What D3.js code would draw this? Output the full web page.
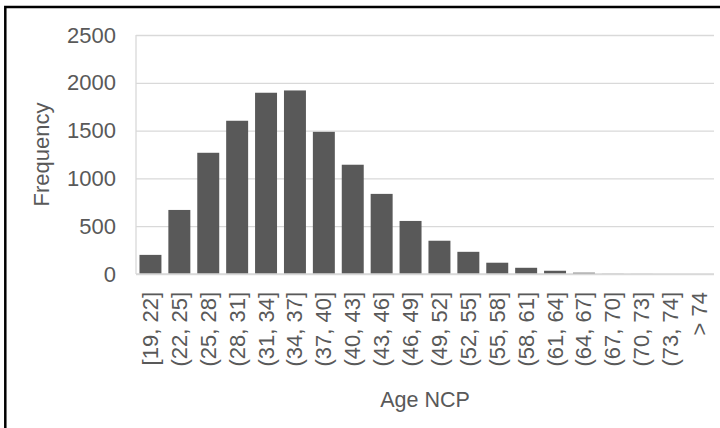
<!DOCTYPE html>
<html>
<head>
  <meta charset="utf-8">
  <title>Age NCP Histogram</title>
  <style>
    body { margin: 0; background: #ffffff; }
    text { font-family: "Liberation Sans", Arial, sans-serif; fill: #595959; }
  </style>
</head>
<body>
<div id="container"></div>
<script src="https://d3js.org/d3.v7.min.js"></script>
<script>
// categories (age bins) and their counts
var bins = ["[19, 22]", "(22, 25]", "(25, 28]", "(28, 31]", "(31, 34]", "(34, 37]",
  "(37, 40]", "(40, 43]", "(43, 46]", "(46, 49]", "(49, 52]", "(52, 55]",
  "(55, 58]", "(58, 61]", "(61, 64]", "(64, 67]", "(67, 70]", "(70, 73]",
  "(73, 74]", "> 74"];
var freq = [200, 670, 1268, 1603, 1896, 1920, 1487, 1143, 838, 555,
  348, 232, 118, 65, 34, 14, 2, 1, 0, 0];
var yTicks = [0, 500, 1000, 1500, 2000, 2500];

const width = 720, height = 428;
const plot = { left: 136, right: 714, top: 35, bottom: 274 };

var svg = d3.select("#container")
  .append("svg")
  .attr("width", width)
  .attr("height", height)
  .style("display", "block");

//******* Scales *******
var x = d3.scaleBand()
  .domain(bins)
  .range([plot.left, plot.right])
  .paddingInner(0.24)
  .paddingOuter(0.12);
var y = d3.scaleLinear()
  .domain([0, 2500])
  .range([plot.bottom, plot.top]);

//******* Gridlines + y labels *******
var yAxis = svg.append("g")
  .attr("transform", `translate(${plot.left}, 0)`)
  .call(d3.axisLeft(y)
    .tickValues(yTicks)
    .tickFormat(d3.format("d"))
    .tickSize(-(plot.right - plot.left))
    .tickPadding(20));
yAxis.select(".domain").remove();
yAxis.selectAll(".tick line")
  .attr("stroke", "#d9d9d9")
  .attr("stroke-width", 1.3);
yAxis.selectAll(".tick text")
  .attr("font-size", "22px")
  .attr("font-family", null)
  .attr("fill", "#595959");

// light vertical axis line on the left
svg.append("line")
  .attr("x1", plot.left).attr("x2", plot.left)
  .attr("y1", plot.top).attr("y2", plot.bottom)
  .attr("stroke", "#d9d9d9")
  .attr("stroke-width", 1.3);

//******* Bars *******
svg.selectAll(".bar")
  .data(freq)
  .enter()
  .append("rect")
  .attr("class", "bar")
  .attr("x", function(d, i) { return x(bins[i]); })
  .attr("y", function(d) { return y(d); })
  .attr("width", x.bandwidth())
  .attr("height", function(d) { return y(0) - y(d); })
  .attr("fill", "#595959");

// bottom axis line drawn over the bars
svg.append("line")
  .attr("x1", plot.left).attr("x2", plot.right)
  .attr("y1", y(0)).attr("y2", y(0))
  .attr("stroke", "#d9d9d9")
  .attr("stroke-width", 1.5);

//******* Category labels, rotated *******
svg.selectAll(".cat")
  .data(bins)
  .enter()
  .append("text")
  .attr("class", "cat")
  .attr("transform", function(d) {
    return `translate(${x(d) + x.bandwidth() / 2}, 292) rotate(-90)`;
  })
  .attr("text-anchor", "end")
  .attr("dominant-baseline", "central")
  .attr("font-size", "22px")
  .text(function(d) { return d; });

//******* Axis titles *******
svg.append("text")
  .attr("transform", `translate(41, ${(plot.top + plot.bottom) / 2}) rotate(-90)`)
  .attr("text-anchor", "middle")
  .attr("dominant-baseline", "central")
  .attr("font-size", "22px")
  .text("Frequency");
svg.append("text")
  .attr("x", (plot.left + plot.right) / 2)
  .attr("y", 407)
  .attr("text-anchor", "middle")
  .attr("font-size", "21.5px")
  .text("Age NCP");

// outer chart frame (right/bottom edges fall outside the picture)
svg.append("rect")
  .attr("x", 5.3)
  .attr("y", 7)
  .attr("width", 800)
  .attr("height", 600)
  .attr("fill", "none")
  .attr("stroke", "#000000")
  .attr("stroke-width", 2.5);
</script>
</body>
</html>
